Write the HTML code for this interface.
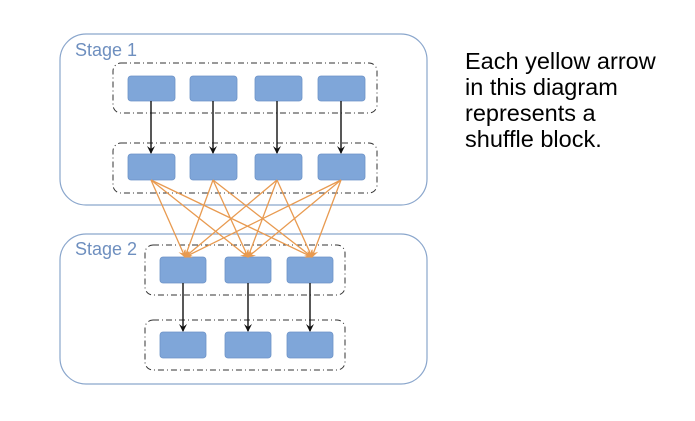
<!DOCTYPE html>
<html><head><style>
body{margin:0;background:#fff;width:695px;height:421px;overflow:hidden}
.t{position:absolute;left:465px;top:48px;font:23.5px/26px "Liberation Sans",sans-serif;color:#000}
</style></head><body>
<svg width="695" height="421" style="position:absolute;left:0;top:0">
<defs>
<marker id="ab" markerWidth="8" markerHeight="8" refX="7" refY="4" orient="auto" markerUnits="userSpaceOnUse"><path d="M0,0 L8,4 L0,8 L3,4z" fill="#111"/></marker>
<marker id="ao" markerWidth="8" markerHeight="8" refX="7" refY="4" orient="auto" markerUnits="userSpaceOnUse"><path d="M0,0 L8,4 L0,8 L3,4z" fill="#e89a50"/></marker>
</defs>
<g fill="none" stroke="#8aa6cc" stroke-width="1.2">
<rect x="60" y="34" width="367" height="171" rx="26"/>
<rect x="60" y="234" width="367" height="150" rx="26"/>
</g>
<g font-family="Liberation Sans,sans-serif" font-size="18" fill="#6e8fbf">
<text x="75" y="56">Stage 1</text>
<text x="75" y="255">Stage 2</text>
</g>
<g fill="none" stroke="#333" stroke-width="1" stroke-dasharray="6,3,1,3">
<rect x="113" y="63" width="264" height="50" rx="8"/>
<rect x="113" y="143" width="264" height="50" rx="8"/>
<rect x="145" y="245" width="200" height="50" rx="8"/>
<rect x="145" y="320" width="200" height="50" rx="8"/>
</g>
<g fill="#7fa6d9" stroke="#6d93c7" stroke-width="0.8">
<rect x="128" y="76" width="47" height="25" rx="3"/><rect x="190" y="76" width="47" height="25" rx="3"/><rect x="255" y="76" width="47" height="25" rx="3"/><rect x="318" y="76" width="47" height="25" rx="3"/>
<rect x="128" y="154" width="47" height="26" rx="3"/><rect x="190" y="154" width="47" height="26" rx="3"/><rect x="255" y="154" width="47" height="26" rx="3"/><rect x="318" y="154" width="47" height="26" rx="3"/>
<rect x="160" y="257" width="46" height="26" rx="3"/><rect x="225" y="257" width="46" height="26" rx="3"/><rect x="287" y="257" width="46" height="26" rx="3"/>
<rect x="160" y="332" width="46" height="26" rx="3"/><rect x="225" y="332" width="46" height="26" rx="3"/><rect x="287" y="332" width="46" height="26" rx="3"/>
</g>
<g stroke="#111" stroke-width="1.4" marker-end="url(#ab)">
<line x1="151" y1="101" x2="151" y2="153"/><line x1="213" y1="101" x2="213" y2="153"/><line x1="277" y1="101" x2="277" y2="153"/><line x1="341" y1="101" x2="341" y2="153"/>
<line x1="183" y1="283" x2="183" y2="331"/><line x1="248" y1="283" x2="248" y2="331"/><line x1="310" y1="283" x2="310" y2="331"/>
</g>
<g stroke="#e89a50" stroke-width="1.3" marker-end="url(#ao)">
<line x1="151" y1="180" x2="185" y2="257"/><line x1="151" y1="180" x2="248" y2="257"/><line x1="151" y1="180" x2="312" y2="257"/>
<line x1="213" y1="180" x2="185" y2="257"/><line x1="213" y1="180" x2="248" y2="257"/><line x1="213" y1="180" x2="312" y2="257"/>
<line x1="277" y1="180" x2="185" y2="257"/><line x1="277" y1="180" x2="248" y2="257"/><line x1="277" y1="180" x2="312" y2="257"/>
<line x1="341" y1="180" x2="185" y2="257"/><line x1="341" y1="180" x2="248" y2="257"/><line x1="341" y1="180" x2="312" y2="257"/>
</g>
</svg>
<div class="t">Each yellow arrow<br>in this diagram<br>represents a<br>shuffle block.</div>
</body></html>
